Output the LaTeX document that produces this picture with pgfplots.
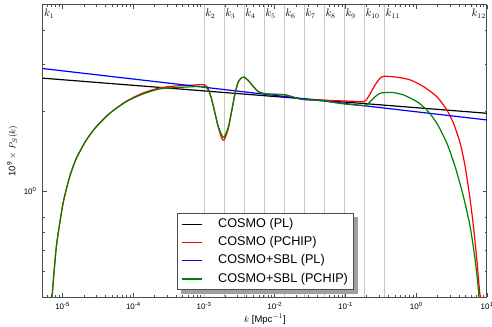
\documentclass[border=0pt]{standalone}
\usepackage{pgfplots}
\pgfplotsset{compat=1.18}
\usepackage{fontspec}
\setmainfont{Liberation Sans}
\definecolor{mplgreen}{rgb}{0,0.5,0}
\definecolor{gridgray}{gray}{0.78}
\definecolor{spine}{gray}{0.3}
\begin{document}
\begin{tikzpicture}
\path[use as bounding box] (-43bp,-30bp) rectangle (449bp,297bp);
\begin{axis}[
  xmode=log, ymode=log,
  scale only axis, width=444bp, height=292bp,
  xmin=5.28e-6, xmax=10, ymin=0.4, ymax=5,
  xtick={1e-5,1e-4,1e-3,1e-2,1e-1,1,10},
  xticklabels={10\textsuperscript{-5},10\textsuperscript{-4},10\textsuperscript{-3},10\textsuperscript{-2},10\textsuperscript{-1},10\textsuperscript{0},10\textsuperscript{1}},
  minor xtick={6e-6,7e-6,8e-6,9e-6,
    2e-5,3e-5,4e-5,5e-5,6e-5,7e-5,8e-5,9e-5,
    2e-4,3e-4,4e-4,5e-4,6e-4,7e-4,8e-4,9e-4,
    2e-3,3e-3,4e-3,5e-3,6e-3,7e-3,8e-3,9e-3,
    2e-2,3e-2,4e-2,5e-2,6e-2,7e-2,8e-2,9e-2,
    2e-1,3e-1,4e-1,5e-1,6e-1,7e-1,8e-1,9e-1,
    2,3,4,5,6,7,8,9},
  ytick={1}, yticklabels={10\textsuperscript{0}},
  minor ytick={0.5,0.6,0.7,0.8,2,3,4},
  tick align=inside,
  major tick length=4bp, minor tick length=2bp,
  every tick/.style={spine, line width=0.7bp},
  axis line style={spine, line width=1bp},
  ticklabel style={font=\fontsize{8}{9}\selectfont},
  xticklabel style={yshift=-2bp},
  yticklabel style={xshift=-3bp},
  extra x ticks={1e-3,1.920e-3,3.686e-3,7.079e-3,1.359e-2,2.609e-2,5.010e-2,9.618e-2,0.1847,0.3546},
  extra x tick labels={},
  extra x tick style={grid=major, tick style={draw=none}},
  major grid style={gridgray, line width=0.8bp},
  xlabel={$k$ [Mpc$^{-1}$]},
  ylabel={10\textsuperscript{9} $\times$ $P_S(k)$},
  label style={font=\fontsize{9.5}{11}\selectfont},
  xlabel style={at={(axis description cs:0.5,-0.077)}, anchor=center},
  ylabel style={at={(axis description cs:-0.069,0.5)}, anchor=center},
  legend cell align=left,
  legend image code/.code={\draw[mark repeat=2, mark phase=2, #1] plot coordinates {(0bp,0bp) (10bp,0bp) (20bp,0bp)};},
  legend image post style={sharp plot},
  legend style={at={(0.302,0.024)}, anchor=south west, draw=spine, line width=0.9bp,
    fill=white, font=\fontsize{12.7}{14}\selectfont,
    inner xsep=4bp, inner ysep=3bp, row sep=3.3bp, column sep=14bp,
    nodes={inner sep=1.5bp, text height=9bp, text depth=3bp}},
]
\fill[gray!75] (rel axis cs:0.310,0.011) rectangle (rel axis cs:0.710,0.275);
\addplot[black, line width=1.2bp] coordinates {(5.28e-6,2.655) (10,1.96)};
\addlegendentry{COSMO (PL)}
\addplot[red, line width=1.2bp, smooth, tension=0.4] coordinates {
(6.9e-6,0.37) (7.08e-6,0.399) (8.15e-6,0.617) (1.014e-5,0.899) (1.259e-5,1.132)
(1.563e-5,1.327) (2.163e-5,1.555) (3.0e-5,1.746) (4.64e-5,1.960) (7.96e-5,2.175)
(1.371e-4,2.336) (2.36e-4,2.44) (4.06e-4,2.483) (6.98e-4,2.50) (1e-3,2.51)
(1.150e-3,2.42) (1.285e-3,2.20) (1.431e-3,1.95) (1.593e-3,1.73) (1.779e-3,1.58)
(1.92e-3,1.555) (2.207e-3,1.72) (2.465e-3,2.00) (2.745e-3,2.33) (3.056e-3,2.577)
(3.413e-3,2.668) (3.686e-3,2.677) (4.234e-3,2.600) (4.981e-3,2.469) (5.861e-3,2.363)
(7.079e-3,2.323) (9.07e-3,2.311) (1.359e-2,2.300) (1.740e-2,2.263) (2.157e-2,2.225)
(2.609e-2,2.206) (3.715e-2,2.20) (5.010e-2,2.195) (7.126e-2,2.185) (9.618e-2,2.18)
(0.1367,2.172) (0.1847,2.168) (0.2108,2.263) (0.2622,2.505) (0.3086,2.655)
(0.3546,2.70) (0.5316,2.677) (0.820,2.616) (1.264,2.469) (1.956,2.263)
(2.709,2.017) (3.359,1.798) (4.178,1.512) (4.918,1.234) (5.787,0.925)
(6.445,0.734) (7.198,0.550) (7.833,0.424) (8.014,0.400) (8.2,0.37)};
\addlegendentry{COSMO (PCHIP)}
\addplot[blue, line width=1.2bp] coordinates {(5.28e-6,2.885) (10,1.85)};
\addlegendentry{COSMO+SBL (PL)}
\addplot[mplgreen, line width=1.2bp, smooth, tension=0.4] coordinates {
(6.9e-6,0.37) (7.08e-6,0.399) (8.15e-6,0.617) (1.014e-5,0.899) (1.259e-5,1.132)
(1.563e-5,1.327) (2.163e-5,1.555) (3.0e-5,1.746) (4.64e-5,1.960) (7.96e-5,2.168)
(1.371e-4,2.317) (2.36e-4,2.420) (4.06e-4,2.447) (6.98e-4,2.466) (1e-3,2.469)
(1.150e-3,2.399) (1.285e-3,2.200) (1.431e-3,1.960) (1.593e-3,1.746) (1.779e-3,1.624)
(1.92e-3,1.592) (2.207e-3,1.746) (2.465e-3,2.017) (2.745e-3,2.331) (3.056e-3,2.577)
(3.413e-3,2.668) (3.686e-3,2.677) (4.234e-3,2.600) (4.981e-3,2.469) (5.861e-3,2.363)
(7.079e-3,2.323) (9.07e-3,2.311) (1.359e-2,2.303) (1.740e-2,2.263) (2.157e-2,2.225)
(2.609e-2,2.206) (3.715e-2,2.194) (5.010e-2,2.181) (7.126e-2,2.149) (9.618e-2,2.125)
(0.1367,2.106) (0.1847,2.094) (0.2108,2.138) (0.2622,2.263) (0.3086,2.331)
(0.3546,2.343) (0.476,2.343) (0.659,2.297) (1.020,2.168) (1.412,2.017)
(1.956,1.798) (2.709,1.512) (3.549,1.234) (4.652,0.952) (5.787,0.734)
(6.810,0.550) (7.583,0.424) (7.681,0.400) (7.85,0.37)};
\addlegendentry{COSMO+SBL (PCHIP)}
\begin{scope}[every node/.style={font=\fontsize{10.5}{12}\selectfont, inner sep=1bp, yshift=-3bp}]
\node[anchor=north west] at (axis cs:5.28e-6,5) {$k_{1}$};
\node[anchor=north west] at (axis cs:1e-3,5) {$k_{2}$};
\node[anchor=north west] at (axis cs:1.920e-3,5) {$k_{3}$};
\node[anchor=north west] at (axis cs:3.686e-3,5) {$k_{4}$};
\node[anchor=north west] at (axis cs:7.079e-3,5) {$k_{5}$};
\node[anchor=north west] at (axis cs:1.359e-2,5) {$k_{6}$};
\node[anchor=north west] at (axis cs:2.609e-2,5) {$k_{7}$};
\node[anchor=north west] at (axis cs:5.010e-2,5) {$k_{8}$};
\node[anchor=north west] at (axis cs:9.618e-2,5) {$k_{9}$};
\node[anchor=north west] at (axis cs:0.1847,5) {$k_{10}$};
\node[anchor=north west] at (axis cs:0.3546,5) {$k_{11}$};
\node[anchor=north east] at (axis cs:10,5) {$k_{12}$};
\end{scope}
\end{axis}
\end{tikzpicture}
\end{document}
